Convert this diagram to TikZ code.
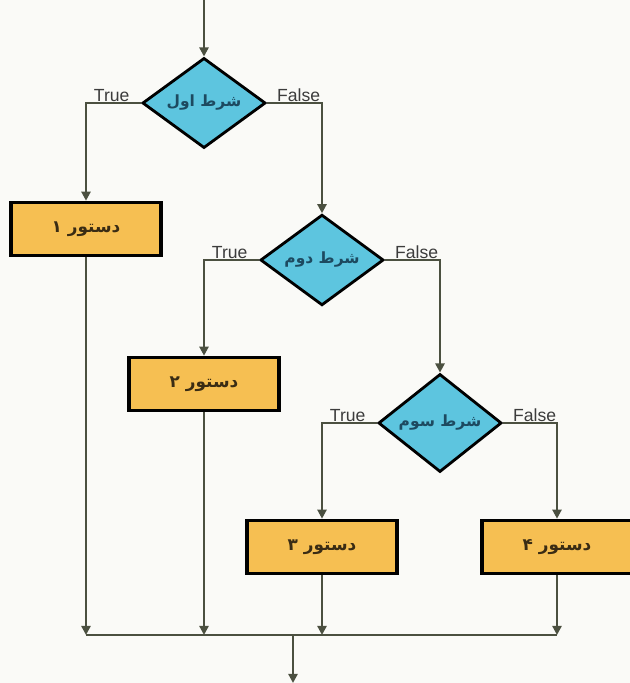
\documentclass[tikz,border=0pt]{standalone}
\usepackage{fontspec}
\setmainfont{Liberation Sans}
\newfontfamily\farsifont[Script=Arabic]{DejaVu Sans}
\TeXXeTstate=1
\usetikzlibrary{shapes.geometric,arrows.meta}
\definecolor{condblue}{HTML}{5DC5DF}
\definecolor{condtext}{HTML}{1D4A60}
\definecolor{stmtorange}{HTML}{F6BF52}
\definecolor{stmttext}{HTML}{3A2C14}
\definecolor{linegray}{HTML}{4B5040}
\definecolor{taggray}{HTML}{3C3C3C}
\definecolor{paper}{HTML}{FAFAF7}
\begin{document}
\begin{tikzpicture}[x=0.025cm, y=-0.025cm,
		cond/.style={diamond, draw=black, line width=2pt, fill=condblue, minimum width=3.08cm, minimum height=1.8cm, inner sep=0pt, font=\farsifont\bfseries\fontsize{11}{11}\selectfont, text=condtext},
		stmt/.style={rectangle, draw=black, line width=2.4pt, fill=stmtorange, minimum width=3.75cm, minimum height=1.33cm, font=\farsifont\bfseries\fontsize{12}{12}\selectfont, text=stmttext},
		link/.style={draw=linegray, line width=1.6pt},
		flow/.style={link, -{Triangle[length=6.5pt,width=6.5pt]}},
		tag/.style={font=\fontsize{12.5}{12.5}\selectfont, text=taggray, inner sep=1pt}]
		\useasboundingbox[fill=paper] (0,0) rectangle (630,683);
		
		% Conditions
		\node[cond] (d1) at (204,103) {\beginR شرط اول\endR};
		\node[cond] (d2) at (322,260) {\beginR شرط دوم\endR};
		\node[cond] (d3) at (440,423) {\beginR شرط سوم\endR};
		
		% Statements
		\node[stmt] (b1) at (86,229) {\beginR دستور ۱\endR};
		\node[stmt] (b2) at (204,384) {\beginR دستور ۲\endR};
		\node[stmt] (b3) at (322,547) {\beginR دستور ۳\endR};
		\node[stmt] (b4) at (557,547) {\beginR دستور ۴\endR};
		
		% Entry and exit
		\coordinate (in) at (204,0);
		\coordinate (join) at (293,635);
		\coordinate (out) at (293,683);
		
		% Branches
		\draw[flow] (in) -- (d1.north);
		\draw[flow] (d1.west) -| (b1.north);
		\draw[flow] (d1.east) -| (d2.north);
		\draw[flow] (d2.west) -| (b2.north);
		\draw[flow] (d2.east) -| (d3.north);
		\draw[flow] (d3.west) -| (b3.north);
		\draw[flow] (d3.east) -| (b4.north);
		
		% Branch labels
		\foreach \d in {d1,d2,d3} {
			\node[tag, anchor=south east, xshift=-7pt] (t\d) at (\d.west) {True};
			\node[tag, anchor=south west, xshift=6pt] (f\d) at (\d.east) {False};
		}
		
		% Merge
		\foreach \b in {b1,b2,b3,b4}
		\draw[flow] (\b.south) -- (\b.south |- join);
		\draw[link] (b1.south |- join) -- (b4.south |- join);
		\draw[flow] (join) -- (out);
	\end{tikzpicture}
\end{document}
